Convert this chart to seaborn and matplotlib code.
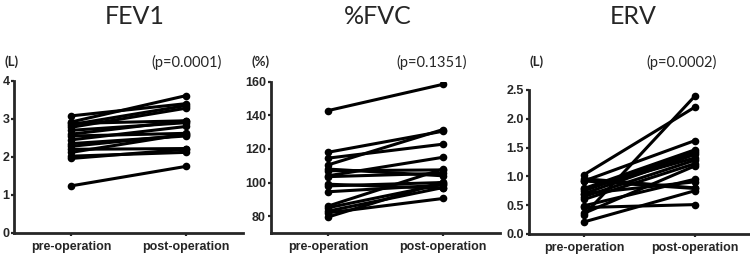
import matplotlib
matplotlib.use("Agg")
import matplotlib.pyplot as plt
import seaborn as sns
import pandas as pd

# paired measurements, one entry per patient (pre, post)
times = ["pre-operation", "post-operation"]

fev1_pre = [3.08, 2.92, 2.88, 2.85, 2.78, 2.70, 2.60, 2.55, 2.45, 2.35, 2.28, 2.20, 2.12, 2.02, 1.96, 1.24]
fev1_post = [3.40, 3.61, 2.95, 3.35, 3.28, 2.90, 2.95, 2.62, 2.80, 2.55, 2.58, 2.22, 2.60, 2.12, 2.20, 1.75]

fvc_pre = [142.8, 118.0, 114.5, 110.5, 108.0, 107.0, 104.0, 103.5, 99.0, 98.0, 94.5, 86.0, 85.0, 83.0, 82.0, 79.5]
fvc_post = [158.4, 130.5, 122.8, 131.5, 104.0, 107.5, 115.0, 105.5, 96.5, 100.0, 98.5, 108.0, 99.0, 97.0, 90.5, 100.5]

erv_pre = [1.03, 0.33, 0.96, 0.92, 0.79, 0.75, 0.70, 0.65, 0.60, 0.49, 0.46, 0.36, 0.21, 0.92, 0.70, 0.78]
erv_post = [2.20, 2.39, 0.80, 1.62, 1.46, 1.42, 1.38, 1.28, 1.22, 0.95, 0.51, 1.18, 0.75, 0.79, 0.905, 1.32]

titles = ["FEV1", "%FVC", "ERV"]
units = ["(L)", "(%)", "(L)"]
pvals = ["(p=0.0001)", "(p=0.1351)", "(p=0.0002)"]
ylims = [(0, 4), (70, 160), (0, 2.5)]
yticks = [[0, 1, 2, 3, 4], [80, 100, 120, 140, 160], [0.0, 0.5, 1.0, 1.5, 2.0, 2.5]]
ytick_fmt = ["{:.0f}", "{:.0f}", "{:.1f}"]


def long_form(pre, post):
    rows = []
    for i, (a, b) in enumerate(zip(pre, post)):
        rows.append({"subject": i, "time": times[0], "value": a})
        rows.append({"subject": i, "time": times[1], "value": b})
    return pd.DataFrame(rows)


data = [long_form(fev1_pre, fev1_post), long_form(fvc_pre, fvc_post), long_form(erv_pre, erv_post)]

sns.set_style("ticks")
plt.rcParams["font.family"] = ["Liberation Sans", "DejaVu Sans"]

fig = plt.figure(figsize=(7.5, 2.6), dpi=100)

# axes boxes in figure fractions
boxes = [
    [0.019, 0.104, 0.305, 0.585],
    [0.361, 0.104, 0.306, 0.582],
    [0.705, 0.100, 0.295, 0.554],
]
title_x = [135, 378, 633]
unit_x = [12, 261, 537]
p_x = [187, 432, 682]

for k in range(3):
    ax = fig.add_axes(boxes[k])
    sns.lineplot(data=data[k], x="time", y="value", units="subject", estimator=None,
                 color="black", marker="o", markersize=5.5, markeredgewidth=0,
                 linewidth=2.2, ax=ax, sort=False)
    ax.set_xlim(-0.5, 1.5)
    ax.set_ylim(*ylims[k])
    ax.set_yticks(yticks[k])
    ax.set_yticklabels([ytick_fmt[k].format(v) for v in yticks[k]])
    ax.set_xlabel("")
    ax.set_ylabel("")
    sns.despine(ax=ax)
    for s in ["left", "bottom"]:
        ax.spines[s].set_linewidth(2)
    ax.tick_params(axis="both", width=1.6, length=2.5, labelsize=9, pad=1)
    ax.tick_params(axis="x", pad=3)
    for lab in ax.get_xticklabels() + ax.get_yticklabels():
        lab.set_fontweight("bold")
    ax.spines["bottom"].set_clip_on(False)

    fig.text(title_x[k] / 750, 1 - 16 / 260, titles[k], ha="center", va="center",
             fontsize=18, family=["Lato", "DejaVu Sans"])
    fig.text(unit_x[k] / 750, 1 - 62 / 260, units[k], ha="center", va="center",
             fontsize=9.5, fontweight="bold", family=["Lato", "DejaVu Sans"])
    fig.text(p_x[k] / 750, 1 - 62 / 260, pvals[k], ha="center", va="center",
             fontsize=10.5, family=["Lato", "DejaVu Sans"])

fig.savefig("out.png", dpi=100)
